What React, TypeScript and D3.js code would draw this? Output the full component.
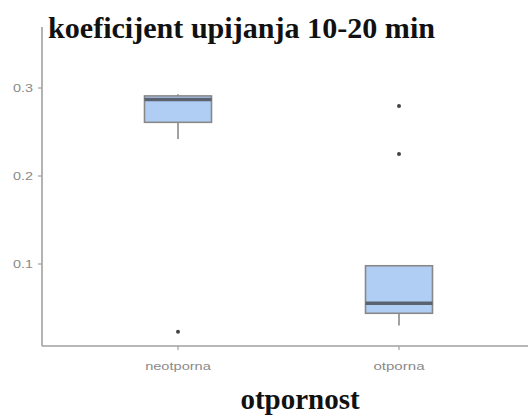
import React from "react";
import * as d3 from "d3";

const categories = ["neotporna", "otporna"];
const q1 = [0.261, 0.044];
const median = [0.287, 0.0555];
const q3 = [0.291, 0.098];
const whiskerLow = [0.242, 0.030];
const whiskerHigh = [0.293, 0.098];
const outliers: [string, number][] = [
  ["neotporna", 0.023],
  ["otporna", 0.2795],
  ["otporna", 0.225],
];
const yTicks = [0.1, 0.2, 0.3];

export default function App() {
  const W = 528, H = 419;
  const left = 42, bottom = 346, top = 27;
  const x = d3.scalePoint<string>().domain(categories).range([45.4, 531.6]).padding(0.6);
  const y = d3.scaleLinear().domain([0.3, 0.2]).range([88, 176]);
  const boxW = 67;
  return (
    <svg width={W} height={H} style={{ position: "absolute", left: 0, top: 0 }}>
      <rect width={W} height={H} fill="#fff" />
      <line x1={left} x2={left} y1={top} y2={bottom} stroke="#a0a0a0" strokeWidth={1.6} />
      <line x1={left} x2={W} y1={bottom} y2={bottom} stroke="#a0a0a0" strokeWidth={1.6} />
      {yTicks.map((t) => (
        <g key={t}>
          <line x1={left - 4} x2={left} y1={y(t)} y2={y(t)} stroke="#a0a0a0" strokeWidth={1.2} />
          <text x={left - 9} y={y(t)} dy="0.35em" textAnchor="end" fontSize={11} fill="#8a8a8a" fontFamily="Liberation Sans, Arial, sans-serif" textLength={20} lengthAdjust="spacingAndGlyphs">
            {t.toFixed(1)}
          </text>
        </g>
      ))}
      {categories.map((c) => (
        <g key={c}>
          <line x1={x(c)!} x2={x(c)!} y1={bottom} y2={bottom + 4} stroke="#a0a0a0" strokeWidth={1.2} />
          <text x={x(c)!} y={bottom + 24} textAnchor="middle" fontSize={11.5} fill="#8a8a8a" fontFamily="Liberation Sans, Arial, sans-serif" textLength={c.length * 7.3} lengthAdjust="spacingAndGlyphs">
            {c}
          </text>
        </g>
      ))}
      {categories.map((c, i) => {
        const cx = x(c)!;
        return (
          <g key={c}>
            <line x1={cx} x2={cx} y1={y(q3[i])} y2={y(whiskerHigh[i])} stroke="#8a8a8a" strokeWidth={1.6} />
            <line x1={cx} x2={cx} y1={y(q1[i])} y2={y(whiskerLow[i])} stroke="#8a8a8a" strokeWidth={1.6} />
            <rect x={cx - boxW / 2} y={y(q3[i])} width={boxW} height={y(q1[i]) - y(q3[i])} fill="#b0cdf4" stroke="#888" strokeWidth={1.6} />
            <line x1={cx - boxW / 2} x2={cx + boxW / 2} y1={y(median[i])} y2={y(median[i])} stroke="#5a6270" strokeWidth={3.5} />
          </g>
        );
      })}
      {outliers.map(([c, v], i) => (
        <circle key={i} cx={x(c)!} cy={y(v)} r={2} fill="#444" />
      ))}
      <text x={48} y={38} fontSize={29} fontWeight="bold" fill="#111" fontFamily="Liberation Serif, Times New Roman, serif" textLength={387} lengthAdjust="spacingAndGlyphs">
        koeficijent upijanja 10-20 min
      </text>
      <text x={300} y={409} textAnchor="middle" fontSize={29} fontWeight="bold" fill="#111" fontFamily="Liberation Serif, Times New Roman, serif">
        otpornost
      </text>
    </svg>
  );
}
